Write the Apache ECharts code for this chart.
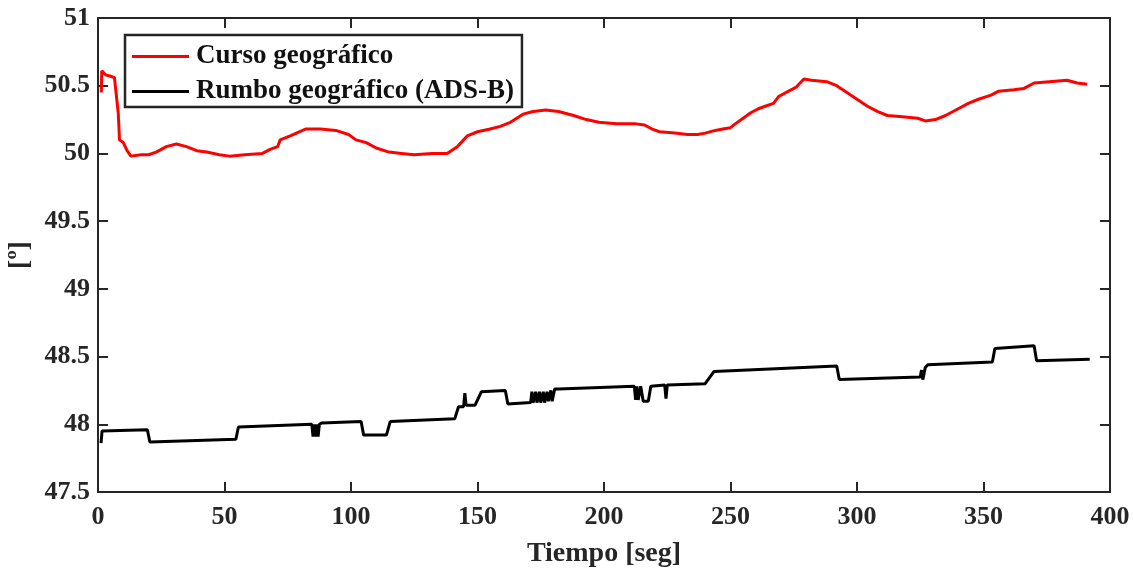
<!DOCTYPE html>
<html>
<head>
<meta charset="utf-8">
<script src="https://cdn.jsdelivr.net/npm/echarts@6/dist/echarts.min.js"></script>
<style>html,body{margin:0;padding:0;background:#fff;}#c{width:1133px;height:568px;}</style>
</head>
<body>
<div id="c"></div>
<script>
const seriesNames = ['Curso geográfico', 'Rumbo geográfico (ADS-B)'];
const xTicks = [0, 50, 100, 150, 200, 250, 300, 350, 400];
const yTicks = [47.5, 48, 48.5, 49, 49.5, 50, 50.5, 51];

const redT = [1.3,1.5,3,5,6.5,8,8.5,10,11.5,13,17,20,23,27,31,35,39,43,48,52,58,65,68,71,72,76,82,88,94,99,102,106,110,115,120,125,132,138,142,144.5,146,150,155,159,163,168,172,177,182,188,193,198,205,212,216,219,222,228,233,237,240,244,247,250,252,255,258,261,264,267,269,273,276,279,282,288,292,296,300,304,308,312,318,324,327,331,335,340,344,348,353,356,362,366,370,376,383,387,391];
const redV = [50.45,50.61,50.58,50.57,50.56,50.30,50.10,50.08,50.02,49.98,49.99,49.99,50.01,50.05,50.07,50.05,50.02,50.01,49.99,49.98,49.99,50.00,50.03,50.05,50.10,50.13,50.18,50.18,50.17,50.14,50.10,50.08,50.04,50.01,50.00,49.99,50.00,50.00,50.05,50.10,50.13,50.16,50.18,50.20,50.23,50.29,50.31,50.32,50.31,50.28,50.25,50.23,50.22,50.22,50.21,50.18,50.16,50.15,50.14,50.14,50.15,50.17,50.18,50.19,50.22,50.26,50.30,50.33,50.35,50.37,50.42,50.46,50.49,50.55,50.54,50.53,50.50,50.45,50.40,50.35,50.31,50.28,50.27,50.26,50.24,50.25,50.28,50.33,50.37,50.40,50.43,50.46,50.47,50.48,50.52,50.53,50.54,50.52,50.51];

const blackT = [1.2,1.6,19.5,20.5,54.5,55.5,84.5,85,85.5,86,86.5,87,87.5,88.5,104,105,114,115.5,141,142.5,144.5,145,145.5,149,151.5,161,162,171,171.5,172,173,173.5,174.5,175,176,176.5,177.5,178,179,179.5,180.5,182,212,212.5,213,213.5,214.5,215.5,217.5,218.5,224,224.5,225,240,243.5,292,293,325,325.5,326,327,328,353.5,354.5,370,371,392];
const blackV = [47.86,47.95,47.96,47.87,47.89,47.98,48.00,47.91,48.00,47.91,48.00,47.91,48.00,48.01,48.02,47.92,47.92,48.02,48.04,48.13,48.13,48.23,48.14,48.14,48.24,48.25,48.15,48.16,48.24,48.16,48.24,48.16,48.24,48.16,48.24,48.16,48.24,48.17,48.25,48.17,48.26,48.26,48.28,48.18,48.28,48.18,48.28,48.17,48.17,48.28,48.29,48.19,48.29,48.30,48.39,48.43,48.33,48.35,48.40,48.33,48.42,48.44,48.46,48.56,48.58,48.47,48.48];

const zip = (a, b) => a.map((t, i) => [t, b[i]]);
const font = 'Liberation Serif';
const axisColor = '#262626';

const chart = echarts.init(document.getElementById('c'), null, {renderer: 'canvas'});
const baseAxis = {
  axisLine: {show: true, onZero: false, lineStyle: {color: axisColor, width: 2}},
  axisTick: {show: true, inside: true, length: 10, lineStyle: {color: axisColor, width: 2}},
  splitLine: {show: false}
};
chart.setOption({
  animation: false,
  backgroundColor: '#fff',
  grid: {left: 98, right: 23, top: 18, bottom: 76, containLabel: false, outerBoundsMode: 'none'},
  legend: {
    orient: 'vertical', left: 125, top: 35,
    padding: [8, 8, 2, 7],
    backgroundColor: '#fff', borderColor: axisColor, borderWidth: 2.5,
    itemWidth: 57, itemHeight: 3, itemGap: 8,
    icon: 'rect',
    textStyle: {fontFamily: font, fontWeight: 'bold', fontSize: 27, color: '#111', lineHeight: 26, padding: [0, 0, 0, 2]},
    data: seriesNames
  },
  xAxis: [
    Object.assign({}, baseAxis, {
      type: 'value', min: xTicks[0], max: xTicks[xTicks.length - 1], interval: 50,
      name: 'Tiempo [seg]', nameLocation: 'middle', nameGap: 48,
      nameTextStyle: {fontFamily: font, fontWeight: 'bold', fontSize: 28, color: axisColor},
      axisLabel: {fontFamily: font, fontWeight: 'bold', fontSize: 26, color: axisColor, margin: 12}
    }),
    Object.assign({}, baseAxis, {
      type: 'value', position: 'top', min: 0, max: 400, interval: 50,
      axisLabel: {show: false}
    })
  ],
  yAxis: [
    Object.assign({}, baseAxis, {
      type: 'value', min: yTicks[0], max: yTicks[yTicks.length - 1], interval: 0.5,
      name: '[º]', nameLocation: 'middle', nameGap: 62, nameRotate: 90,
      nameTextStyle: {fontFamily: font, fontWeight: 'bold', fontSize: 28, color: axisColor},
      axisLabel: {fontFamily: font, fontWeight: 'bold', fontSize: 26, color: axisColor, margin: 8}
    }),
    Object.assign({}, baseAxis, {
      type: 'value', position: 'right', min: 47.5, max: 51, interval: 0.5,
      axisLabel: {show: false}
    })
  ],
  series: [
    {name: seriesNames[0], type: 'line', data: zip(redT, redV), showSymbol: false, symbol: 'none',
     color: '#ff0000', lineStyle: {color: '#ff0000', width: 3}},
    {name: seriesNames[1], type: 'line', data: zip(blackT, blackV), showSymbol: false, symbol: 'none',
     color: '#000000', lineStyle: {color: '#000000', width: 3}}
  ]
});
</script>
</body>
</html>
